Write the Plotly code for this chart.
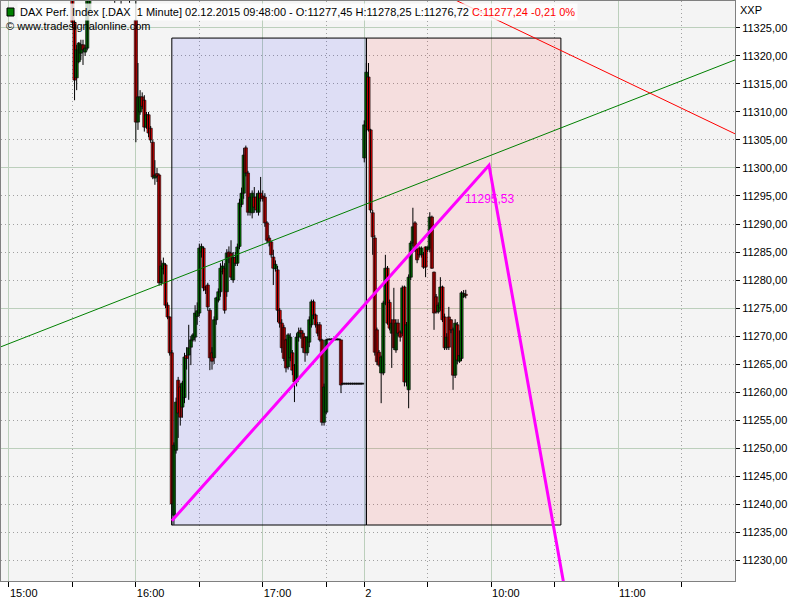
import plotly.graph_objects as go

# ---------------- data ----------------
# Day 1 (01.12.2015) one-minute bars
d1_time = ["15:30","15:31","15:32","15:33","15:34","15:35","15:36","15:37","15:38","15:39",
           "15:40","15:41","15:42","15:43","15:44","15:45","15:46","15:47","15:48","15:49",
           "15:50","15:51","15:52","15:53","15:54","15:55","15:56","15:57","15:58","15:59",
           "16:00","16:01","16:02","16:03","16:04","16:05","16:06","16:07","16:08","16:09",
           "16:10","16:11","16:12","16:13","16:14","16:15","16:16","16:17","16:18","16:19",
           "16:20","16:21","16:22","16:23","16:24","16:25","16:26","16:27","16:28","16:29",
           "16:30","16:31","16:32","16:33","16:34","16:35","16:36","16:37","16:38","16:39",
           "16:40","16:41","16:42","16:43","16:44","16:45","16:46","16:47","16:48","16:49",
           "16:50","16:51","16:52","16:53","16:54","16:55","16:56","16:57","16:58","16:59",
           "17:00","17:01","17:02","17:03","17:04","17:05","17:06","17:07","17:08","17:09",
           "17:10","17:11","17:12","17:13","17:14","17:15","17:16","17:17","17:18","17:19",
           "17:20","17:21","17:22","17:23","17:24","17:25","17:26","17:27","17:28","17:29",
           "17:30","17:31","17:32","17:33","17:34","17:35","17:36","17:37","17:38","17:39",
           "17:40","17:41","17:42","17:43","17:44","17:45","17:46","17:47"]
d1_open = [11333,11326,11316.1,11319,11320.5,11322,11320.7,11321.4,11328,11336,
           11335,11336,11338,11337,11335,11336,11337,11336,11334,11335,
           11333,11331,11333,11332,11330.5,11332,11334,11332,11331,11333,
           11326.4,11308.2,11310,11312.7,11312.1,11307.3,11309.5,11307.1,11304.6,11298.2,
           11299,11298.75,11279.5,11282,11282.7,11275.5,11273.4,11267,11238,11249.6,
           11262.1,11260.9,11257.3,11259,11266.5,11266.6,11268,11269.3,11269.8,11273.5,
           11274.1,11285,11285.7,11278.75,11279.1,11274.6,11267,11266.1,11272.9,11276.4,
           11277.9,11281.5,11282.1,11277.9,11285,11284.8,11280,11284,11283,11286,
           11293.5,11295.5,11303.6,11299.1,11292.1,11292,11294.8,11294.8,11292.1,11295.5,
           11295,11294.8,11290.2,11287.5,11286.8,11284.1,11282,11281.8,11274.6,11272.3,
           11271.5,11269.3,11264.5,11266.1,11267,11264.8,11261.8,11269.8,11271,11270.5,
           11269.8,11267,11268.9,11272,11276.1,11273.75,11272,11272,11269.3,11254.6,
           11256.4,11269.3,11269.3,11269.3,11269.3,11269.3,11269.3,11269.3,11261.4,11261.4,
           11261.4,11261.4,11261.4,11261.4,11261.4,11261.4,11261.4,11261.4]
d1_high = [11334,11326.5,11322,11322.5,11322.9,11322.9,11322,11336,11338,11338,
           11337,11339,11340,11338,11337,11338,11339,11337,11336,11336,
           11335,11334,11335,11334,11333,11335,11336,11333,11334,11336,
           11331,11318.75,11313.9,11313.5,11313,11310,11310,11307.5,11305,11301.4,
           11300,11299,11283.5,11284,11283,11276,11273.5,11267.5,11251,11259,
           11262.7,11261.5,11262,11267,11268,11272,11270,11270.5,11275.5,11276,
           11286.5,11286.5,11286,11279,11279.5,11275,11268,11273.5,11277,11278.5,
           11283,11283.5,11283,11285.5,11286,11287.1,11285,11285,11286.5,11294.5,
           11296.5,11303.6,11304,11299.5,11295.5,11296,11296.6,11295.5,11296,11298.4,
           11296,11295.5,11290.5,11288,11287,11285.4,11283.5,11282.5,11275,11273,
           11272,11269.5,11270.5,11270.5,11267.5,11265,11270.5,11271.5,11271.5,11271,
           11270,11270,11273.5,11276.5,11276.5,11274,11272.5,11272.5,11269.5,11261.5,
           11269.5,11269.3,11269.3,11269.3,11269.3,11269.3,11269.3,11269.3,11261.4,11261.4,
           11261.4,11261.4,11261.4,11261.4,11261.4,11261.4,11261.4,11261.4]
d1_low = [11325,11312.1,11313.9,11318.7,11319.3,11318.4,11320,11321,11327.5,11334,
          11333,11335,11336,11334,11333,11335,11335,11333,11332,11332,
          11329.5,11330,11331,11329.3,11330,11331,11331,11329.5,11330,11332,
          11304.6,11306.8,11309.5,11310.5,11306.5,11307,11305.5,11304.5,11298,11297,
          11297.5,11279,11279,11281,11275,11273,11266.5,11236.2,11236.3,11249,
          11251.8,11254,11255.4,11258,11264,11258.6,11264.8,11269,11269,11272,
          11273.5,11284,11278,11277.5,11274.5,11263.9,11264,11265,11272,11276,
          11277,11281,11274,11277,11283,11280,11279.5,11282.5,11282.5,11285.5,
          11293,11294.5,11298.5,11291.5,11291.5,11291,11292,11292,11291.5,11294,
          11294,11289.5,11286.5,11286,11284,11279.1,11281.5,11272.5,11271.5,11267,
          11265.5,11263.5,11264,11265.5,11263,11258.2,11261,11269,11269.5,11267,
          11265.4,11266.5,11268,11271.5,11273,11271.5,11270,11269,11254,11254,
          11256,11269.3,11269.3,11269.3,11269.3,11269.3,11269.3,11259.8,11261.4,11261.4,
          11261.4,11261.4,11261.4,11261.4,11261.4,11261.4,11261.4,11261.4]
d1_close = [11326,11315.7,11321.1,11322.3,11322,11321.1,11321.4,11334,11336,11335,
            11336,11338,11337,11335,11336,11337,11336,11334,11335,11333,
            11331,11333,11332,11330.5,11332,11334,11332,11331,11333,11330,
            11308.2,11312.7,11312.7,11311,11307.3,11309.5,11306.25,11305,11298.4,11298.75,
            11298.5,11279.5,11282.5,11283,11275.5,11273.4,11267,11240,11250.5,11258.2,
            11256.25,11255.5,11261.6,11266.25,11266,11267.9,11269.3,11270.2,11274.1,11274.5,
            11285.7,11286,11278.6,11278.2,11275.2,11266.1,11265.5,11272.9,11276.8,11277.9,
            11282.1,11282.5,11274.6,11284.8,11284,11280.5,11284,11283,11285.9,11293.75,
            11295.5,11302.3,11299.1,11292.1,11294.8,11295.5,11293,11292.5,11295.5,11294.6,
            11294.5,11290.2,11287.1,11286.8,11284.5,11282.1,11282.8,11274.6,11272.3,11267.9,
            11266,11264.3,11270.2,11269.8,11263.9,11261.8,11269.8,11270.7,11270.5,11267.9,
            11267,11269.8,11272.9,11276.1,11273.75,11272,11270.5,11269.3,11254.6,11260.9,
            11269.3,11269.3,11269.3,11269.3,11269.3,11269.3,11269.3,11261.25,11261.4,11261.4,
            11261.4,11261.4,11261.4,11261.4,11261.4,11261.4,11261.4,11261.4]

# Day 2 (02.12.2015) one-minute bars
d2_time = ["09:00","09:01","09:02","09:03","09:04","09:05","09:06","09:07","09:08","09:09",
           "09:10","09:11","09:12","09:13","09:14","09:15","09:16","09:17","09:18","09:19",
           "09:20","09:21","09:22","09:23","09:24","09:25","09:26","09:27","09:28","09:29",
           "09:30","09:31","09:32","09:33","09:34","09:35","09:36","09:37","09:38","09:39",
           "09:40","09:41","09:42","09:43","09:44","09:45","09:46","09:47","09:48"]
d2_open = [11301.8,11307.5,11316.25,11306.8,11292,11287.5,11271.1,11267.1,11263.4,11263.4,
           11275.9,11282.1,11276,11270.5,11272.9,11267.5,11272.3,11270.7,11270.5,11278.75,
           11261.8,11260.4,11280.5,11286.6,11290.2,11285.4,11285.7,11284.5,11284.5,11285.9,
           11285.4,11285.7,11291.25,11281.4,11277,11274.3,11275,11278.75,11273.4,11267.9,
           11273.4,11272.9,11271.1,11263,11272,11265.5,11266,11277,11277.45]
d2_high = [11308.5,11318.75,11318.75,11307,11292.5,11288,11271.5,11267.5,11266.5,11276.3,
           11284.5,11282.5,11276.5,11273,11278.6,11273,11273,11271,11279,11279,
           11272.5,11281,11287,11292.9,11290.5,11285.5,11286,11286,11285,11286,
           11286,11292.1,11291.5,11281.5,11277.5,11276,11280.5,11279,11274,11270.5,
           11275.2,11273,11271.5,11273,11272.5,11271,11278,11278.2,11278.25]
d2_low = [11301,11306.5,11306.5,11292,11284.5,11266.5,11264.8,11264.5,11258,11263,
          11275.5,11272,11271,11264.3,11267.5,11267,11270,11269,11270,11261,
          11261,11257.1,11280,11286,11285,11283,11284,11284,11282,11280.5,
          11285,11285,11282,11271.1,11274,11274,11274.5,11272.5,11267.5,11267.5,
          11267.5,11270.5,11260.4,11262.5,11265,11265.2,11265.5,11276.8,11276.72]
d2_close = [11307.7,11317.1,11306.8,11292.5,11287.7,11267.1,11265.4,11264.8,11266.25,11275.9,
            11282.1,11272.3,11271.4,11272.3,11267.9,11272.3,11270.5,11269.8,11278.6,11261.8,
            11272,11280.5,11286.6,11289.5,11285.4,11283.6,11284.5,11285.7,11282.3,11282.3,
            11285.9,11291.25,11282.1,11274.1,11274.3,11275.5,11278.75,11272.9,11267.9,11269.8,
            11268,11271.1,11263,11272.3,11265.7,11266.5,11277.7,11277.6,11277.24]

# session layout: day 1 runs 15:00..17:47 (168 bars), day 2 starts 09:00
DAY1_START_HOUR = 15
DAY1_BAR_COUNT = 168
DAY2_START_HOUR = 9

# time axis labels (day, time, label)
major_ticks = [(1, "15:00", "15:00"), (1, "16:00", "16:00"), (1, "17:00", "17:00"),
               (2, "09:00", "2"), (2, "10:00", "10:00"), (2, "11:00", "11:00")]
minor_ticks = [(1, "15:30"), (1, "16:30"), (1, "17:30"), (2, "09:30"), (2, "10:30"), (2, "11:30")]

# drawing tools (day, time, price)
trend_green = [(1, "14:55", 11267.9), (2, "11:57", 11319.55)]
trend_red = [(2, "09:32", 11332.0), (2, "12:02", 11304.9)]
zigzag = [(1, "16:17", 11237.0), (2, "09:59", 11300.5), (2, "10:42", 11209.6)]
zigzag_label = (2, "09:59", 11294.5, "11295,53")
box_times = [(1, "16:17"), (2, "09:01"), (2, "10:33")]
box_prices = [11236.25, 11323.2]

y_range = [11226.25, 11329.82]
x_range = (-3.78, 343.33)


def bar_index(day, t):
    h, m = map(int, t.split(":"))
    if day == 1:
        return (h - DAY1_START_HOUR) * 60 + m
    return DAY1_BAR_COUNT + (h - DAY2_START_HOUR) * 60 + m


xs = [bar_index(1, t) for t in d1_time] + [bar_index(2, t) for t in d2_time]
opens = d1_open + d2_open
highs = d1_high + d2_high
lows = d1_low + d2_low
closes = d1_close + d2_close

MIN_BODY = 0.18  # one pixel, so that flat bars still show as a line
body_base = [min(o, c) for o, c in zip(opens, closes)]
body_len = [max(abs(c - o), MIN_BODY) for o, c in zip(opens, closes)]
body_col = ["#008000" if c > o else ("#ff0000" if c < o else "#000000") for o, c in zip(opens, closes)]

wick_x, wick_y = [], []
for x, lo, hi in zip(xs, lows, highs):
    wick_x += [x, x, None]
    wick_y += [lo, hi, None]

fig = go.Figure()
fig.add_trace(go.Scatter(x=wick_x, y=wick_y, mode="lines", line=dict(color="black", width=1),
                         hoverinfo="skip", showlegend=False))
fig.add_trace(go.Bar(x=xs, y=body_len, base=body_base, width=1.5,
                     marker=dict(color=body_col, line=dict(color="#101010", width=0.7)),
                     hoverinfo="skip", showlegend=False))

# invisible trace to carry the overlaid grid axis
fig.add_trace(go.Scatter(x=[0], y=[11300], yaxis="y2", mode="markers",
                         marker=dict(opacity=0), hoverinfo="skip", showlegend=False))

bx = [bar_index(d, t) for d, t in box_times]
fig.add_shape(type="rect", xref="x", yref="y", x0=bx[0], x1=bx[1], y0=box_prices[0], y1=box_prices[1],
              fillcolor="rgba(0,0,255,0.09)", line=dict(color="black", width=1), layer="between")
fig.add_shape(type="rect", xref="x", yref="y", x0=bx[1], x1=bx[2], y0=box_prices[0], y1=box_prices[1],
              fillcolor="rgba(255,0,0,0.09)", line=dict(color="black", width=1), layer="between")


def path_of(pts):
    return " ".join(("M" if i == 0 else "L") + f"{bar_index(d, t)},{p}" for i, (d, t, p) in enumerate(pts))


for pts, col, w in [(trend_green, "#008000", 1), (trend_red, "#ff0000", 1), (zigzag, "#ff00ff", 3)]:
    fig.add_shape(type="path", xref="x", yref="y", path=path_of(pts),
                  line=dict(color=col, width=w), layer="above")

FONT = "Liberation Sans"
grid_major = "#bccfbc"
grid_minor = "#a0a0a0"

fig.update_layout(
    width=800, height=600,
    margin=dict(l=1, r=65, t=1, b=19),
    paper_bgcolor="white", plot_bgcolor="#f4f4f4",
    separators=",.", showlegend=False, barmode="overlay",
    font=dict(family=FONT, size=11, color="black"),
    xaxis=dict(
        range=list(x_range),
        tickmode="array",
        tickvals=[bar_index(d, t) for d, t, _ in major_ticks],
        ticktext=[lab for _, _, lab in major_ticks],
        ticks="outside", ticklen=5, tickcolor="black", tickwidth=1,
        ticklabelposition="outside right", ticklabelstandoff=2,
        showgrid=True, gridcolor=grid_major, gridwidth=1,
        minor=dict(tickvals=[bar_index(d, t) for d, t in minor_ticks], ticks="outside", ticklen=5,
                   tickcolor="black", showgrid=True, gridcolor=grid_minor, griddash="1px,3px"),
        showline=True, linecolor="#808080", mirror=True, zeroline=False,
        tickfont=dict(family=FONT, size=11, color="black"),
    ),
    yaxis=dict(
        range=y_range, side="right", tickmode="linear", tick0=11230, dtick=5,
        tickformat=".2f", ticks="outside", ticklen=4, tickcolor="black",
        showgrid=True, gridcolor=grid_minor, griddash="1px,3px",
        showline=True, linecolor="#808080", mirror=True, zeroline=False,
        tickfont=dict(family=FONT, size=11, color="black"),
    ),
    yaxis2=dict(
        range=y_range, overlaying="y", side="right", tickmode="linear", tick0=11250, dtick=25,
        showticklabels=False, ticks="", showgrid=True, gridcolor=grid_major, zeroline=False,
        showline=False,
    ),
)

W, H = 734.0, 580.0


def px(x):
    return (x - 1) / W


def py(y):
    return (581 - y) / H


lx = zigzag_label
fig.add_annotation(x=bar_index(lx[0], lx[1]), y=lx[2], xref="x", yref="y", text=lx[3],
                   showarrow=False, font=dict(family=FONT, size=12, color="#ff00ff"))

fig.add_annotation(
    x=px(17), y=py(12), xref="paper", yref="paper", xanchor="left", yanchor="middle",
    text="DAX Perf. Index [.DAX\u00a0 1 Minute] 02.12.2015 09:48:00 - O:11277,45 H:11278,25 L:11276,72 "
         "<span style='color:#ff0000'>C:11277,24 -0,21 0%</span>",
    showarrow=False, bgcolor="rgba(255,255,255,0.8)", borderpad=2,
    font=dict(family=FONT, size=11, color="black"))
fig.add_annotation(
    x=px(4), y=py(26), xref="paper", yref="paper", xanchor="left", yanchor="middle",
    text="© www.tradesignalonline.com", showarrow=False,
    font=dict(family=FONT, size=11, color="black"))
fig.add_annotation(
    x=px(738), y=py(10), xref="paper", yref="paper", xanchor="left", yanchor="middle",
    text="XXP", showarrow=False, font=dict(family=FONT, size=11, color="black"))
fig.add_shape(type="rect", xref="paper", yref="paper", x0=px(7), x1=px(14), y0=py(16), y1=py(8),
              fillcolor="#008000", line=dict(color="black", width=1), layer="above")

fig.write_html("out.html", config={"displayModeBar": False},
               post_script="document.body.style.margin='0px';")
